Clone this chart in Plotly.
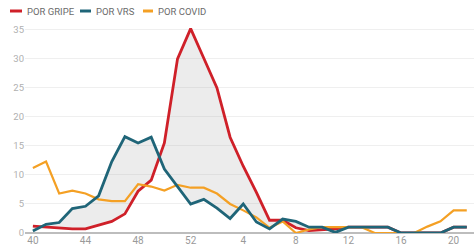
import plotly.graph_objects as go

weeks = [40, 41, 42, 43, 44, 45, 46, 47, 48, 49, 50, 51, 52,
         1, 2, 3, 4, 5, 6, 7, 8, 9, 10, 11, 12, 13, 14, 15, 16, 17, 18, 19, 20, 21]

gripe = [1.2, 1.0, 0.9, 0.7, 0.7, 1.4, 2.0, 3.3, 7.2, 9.1, 15.5, 30.0, 35.2,
         30.1, 25.0, 16.5, 11.5, 7.0, 2.2, 2.2, 0.9, 0.4, 0.5, 0.7, 1.0, 1.0,
         1.0, 1.0, 0.0, 0.0, 0.0, 0.0, 1.0, 1.0]
vrs = [0.35, 1.5, 1.8, 4.2, 4.6, 6.4, 12.3, 16.6, 15.5, 16.5, 11.0, 8.0, 5.0,
       5.8, 4.3, 2.5, 5.0, 1.9, 0.7, 2.4, 2.0, 1.0, 1.0, 0.1, 1.0, 1.0,
       1.0, 1.0, 0.0, 0.0, 0.0, 0.0, 1.0, 1.0]
covid = [11.2, 12.3, 6.8, 7.3, 6.8, 5.8, 5.5, 5.5, 8.4, 8.0, 7.3, 8.3, 7.8,
         7.8, 6.8, 5.0, 3.9, 2.7, 0.9, 2.0, 0.0, 0.6, 1.0, 1.0, 1.0, 1.0,
         0.0, 0.0, 0.0, 0.0, 1.1, 2.0, 3.9, 3.9]

tick_labels = ["40", "44", "48", "52", "4", "8", "12", "16", "20"]
series_names = ["POR GRIPE", "POR VRS", "POR COVID"]
colors = ["#cf2029", "#1f6578", "#f4a024"]

x = list(range(len(weeks)))
tick_idx = list(range(0, len(weeks), 4))

W, H = 474, 252
ML, MR, MT, MB = 25, 0, 24, 19

fig = go.Figure()
# shaded area between gripe and VRS
fig.add_trace(go.Scatter(x=x, y=gripe, mode="lines", line=dict(width=0),
                         showlegend=False, hoverinfo="skip"))
fig.add_trace(go.Scatter(x=x, y=vrs, mode="lines", line=dict(width=0),
                         fill="tonexty", fillcolor="rgba(150,150,150,0.18)",
                         showlegend=False, hoverinfo="skip"))
# lines
fig.add_trace(go.Scatter(x=x, y=gripe, mode="lines", name=series_names[0],
                         line=dict(color=colors[0], width=2.8), showlegend=False))
fig.add_trace(go.Scatter(x=x, y=covid, mode="lines", name=series_names[2],
                         line=dict(color=colors[2], width=2.2), showlegend=False))
fig.add_trace(go.Scatter(x=x, y=vrs, mode="lines", name=series_names[1],
                         line=dict(color=colors[1], width=2.8), showlegend=False))

# custom legend (pixel positions converted to paper coords)
pw = W - ML - MR
ph = H - MT - MB
def px(v):
    return (v - ML) / pw
def py(v):
    return (H - MB - v) / ph

leg = [(10, 22, 25), (80, 91, 94), (143, 153, 156)]
for (s0, s1, tx), name, col in zip(leg, series_names, colors):
    fig.add_shape(type="line", xref="paper", yref="paper",
                  x0=px(s0), x1=px(s1), y0=py(11), y1=py(11),
                  line=dict(color=col, width=3))
    fig.add_annotation(xref="paper", yref="paper", x=px(tx), y=py(11),
                       xanchor="left", yanchor="middle", showarrow=False,
                       text=name, font=dict(size=9.5, color="#6b6b6b"))

fig.update_layout(
    width=W, height=H,
    margin=dict(l=ML, r=MR, t=MT, b=MB),
    plot_bgcolor="white", paper_bgcolor="white",
    font=dict(family="Roboto", size=10, color="#9a9a9a"),
    showlegend=False,
    xaxis=dict(range=[-0.6, 33.55], tickmode="array", tickvals=tick_idx,
               ticktext=tick_labels, showgrid=False, zeroline=False,
               showline=False, ticks="", tickfont=dict(size=10, color="#9a9a9a")),
    yaxis=dict(range=[0, 36], tickvals=[0, 5, 10, 15, 20, 25, 30, 35],
               showgrid=True, gridcolor="#efefef", gridwidth=1,
               zeroline=True, zerolinecolor="#bdbdbd", zerolinewidth=2,
               showline=False, ticks="", tickfont=dict(size=9.5, color="#b0b0b0")),
)

fig.write_html("out.html", config={"displayModeBar": False},
               post_script="document.body.style.margin='0';")
